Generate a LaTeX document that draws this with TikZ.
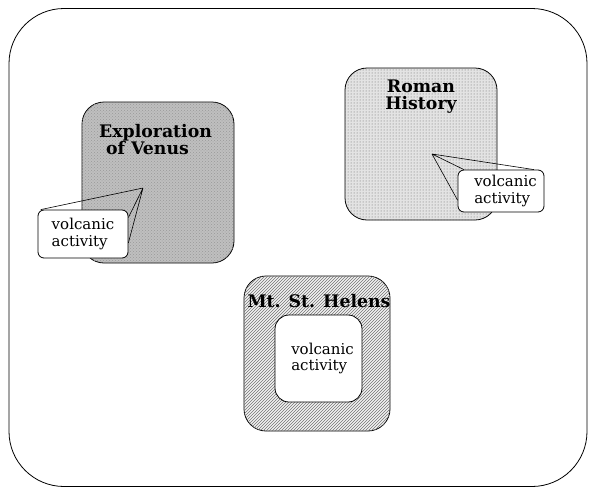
\documentclass[tikz,border=0pt]{standalone}
\usepackage{fontspec}
\setmainfont{DejaVu Serif}
\usetikzlibrary{patterns,positioning}

\begin{document}
\begin{tikzpicture}[x=1pt, y=-1pt,
  topic/.style={draw, thick, rounded corners=22pt, inner sep=0pt},
  title/.style={font=\bfseries\fontsize{17.3}{17}\selectfont, inner sep=0pt},
  balloon/.style={draw, thick, fill=white, rounded corners=6pt, inner sep=0pt, align=left, font=\fontsize{15}{16.5}\selectfont},
  stem/.style={semithick}]
\useasboundingbox (0,0) rectangle (597,493);
\node[draw, thick, rounded corners=55pt, minimum width=578pt, minimum height=478pt] (frame) at (298,247.5) {};
% topics
\node[topic, fill=gray!50, postaction={pattern=crosshatch dots, pattern color=black!40}, minimum width=152pt, minimum height=161pt] (venus) at (158,182.5) {};
\node[topic, fill=gray!22, postaction={pattern=dots, pattern color=black!60}, minimum width=152pt, minimum height=152pt] (roman) at (421,144) {};
\node[topic, fill=gray!10, postaction={pattern=north east lines, pattern color=black!55}, minimum width=146pt, minimum height=155pt] (helens) at (317,353.5) {};
\node[title, align=left, anchor=north west] (venusT) at (99,124) {Exploration\\\hspace{0.4em}of Venus};
\node[title, align=center] (romanT) at (421,97) {Roman\\History};
\node[title] (helensT) at (319,301) {Mt. St. Helens};
% volcanic activity
\node[balloon, minimum width=90pt, minimum height=48pt] (vcall) at (83,234) {volcanic\\activity};
\coordinate (vtip) at (143,188);
\draw[stem] (vtip) -- (vcall.150) (vtip) -- (vcall.20) (vtip) -- (vcall.-11);
\node[balloon, minimum width=86pt, minimum height=42pt] (rcall) at (501,191) {\hspace{9pt}volcanic\\\hspace{9pt}activity};
\coordinate (rtip) at (432,154);
\draw[stem] (rtip) -- (rcall.33) (rtip) -- (rcall.150) (rtip) -- (rcall.192);
\node[balloon, rounded corners=14pt, minimum width=87pt, minimum height=87pt] (hcall) at (318.5,358.5) {\hspace{8pt}volcanic\\\hspace{8pt}activity};
\end{tikzpicture}
\end{document}
